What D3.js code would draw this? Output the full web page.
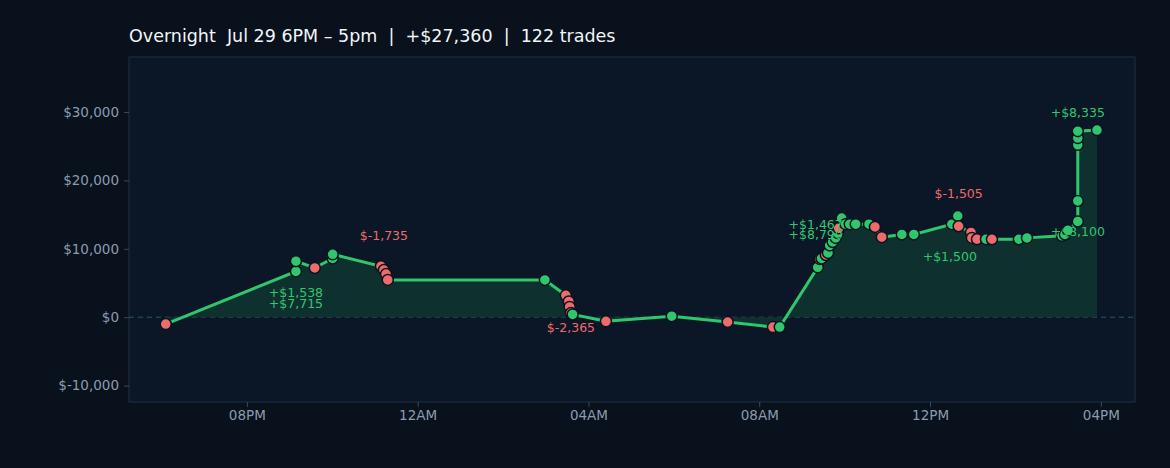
<!DOCTYPE html>
<html><head><meta charset="utf-8">
<script src="https://cdn.jsdelivr.net/npm/d3@7"></script>
<style>body{margin:0;background:#08111c;}svg{display:block;font-family:"DejaVu Sans",sans-serif;}</style>
</head><body><svg id="c" width="1170" height="468"></svg>
<script>
// hours since Jul 29 00:00
const hours = [18.10,21.15,21.15,21.59,22.01,22.01,23.14,23.21,23.26,23.30,26.98,27.47,27.54,27.56,27.59,27.63,28.41,29.95,31.26,32.32,32.48,33.37,33.42,33.46,33.56,33.61,33.65,33.72,33.79,33.84,33.86,33.93,34.02,34.12,34.26,34.57,34.71,34.87,35.34,35.62,36.51,36.65,36.67,36.96,36.98,37.10,37.31,37.45,38.08,38.27,39.09,39.16,39.23,39.46,39.46,39.46,39.46,39.46,39.91];
const equity = [-1000,6700,8200,7200,8600,9200,7450,6900,6300,5450,5450,3200,2300,1500,600,400,-600,150,-700,-1450,-1450,7300,8500,8600,9100,9400,10500,11000,11600,12300,13000,14500,13600,13600,13600,13600,13200,11700,12100,12100,13600,14800,13300,12400,11600,11400,11400,11400,11400,11600,11900,12100,12700,14000,17000,25200,26200,27200,27360];
const win = [0,1,1,0,1,1,0,0,0,0,1,0,0,0,0,1,0,1,0,0,1,1,0,1,0,1,1,1,1,1,0,1,1,1,1,1,0,0,1,1,1,1,0,0,0,0,1,0,1,1,1,1,1,1,1,1,1,1,1];
const noteIdx = [2,2,7,14,30,30,41,42,53,57];
const noteText = ["+$1,538","+$7,715","$-1,735","$-2,365","+$1,467","+$8,790","+$1,500","$-1,505","+$8,100","+$8,335"];
const noteWin = [1,1,0,0,1,1,1,0,1,1];
const noteDx = [0,0,0,0,-23,-23,-8,0,0,0];
const noteDy = [36,47,-30,19,1,11,45,-28,15,-14];
const xTickHours = [20,24,28,32,36,40];
const xTickLabels = ["08PM","12AM","04AM","08AM","12PM","04PM"];
const yTicks = [-10000,0,10000,20000,30000];
const title = "Overnight  Jul 29 6PM – 5pm  |  +$27,360  |  122 trades";

const svg = d3.select("#c");
const L=129,R=1135,T=57,B=402;
const x = d3.scaleLinear().domain([17.24,40.8]).range([L,R]);
const y = d3.scaleLinear().domain([-12400,38050]).range([B,T]);
const GREEN="#2fc66d", RED="#ee6b6b";
svg.append("rect").attr("width",1170).attr("height",468).attr("fill","#08111c");
svg.append("rect").attr("x",L).attr("y",T).attr("width",R-L).attr("height",B-T).attr("fill","#0b1626").attr("stroke","#1f3046");
svg.append("text").attr("x",L).attr("y",42).attr("fill","#f2f5f8").attr("font-size",17.5).style("white-space","pre").text(title);
const money = d=> d<0 ? "$-"+d3.format(",")(-d) : "$"+d3.format(",")(d);
const yAx = svg.append("g").attr("transform",`translate(${L},0)`).call(d3.axisLeft(y).tickValues(yTicks).tickSize(5).tickFormat(money));
const xAx = svg.append("g").attr("transform",`translate(0,${B})`).call(d3.axisBottom(x).tickValues(xTickHours).tickSize(5).tickFormat((d,i)=>xTickLabels[i]));
[yAx,xAx].forEach(a=>{a.select(".domain").remove();a.selectAll("line").attr("stroke","#3a4a5e");a.selectAll("text").attr("fill","#8c9bb0").attr("font-size",13.5).attr("font-family","DejaVu Sans");});
yAx.selectAll("text").attr("dx",-2);
svg.append("line").attr("x1",L).attr("x2",R).attr("y1",y(0)).attr("y2",y(0)).attr("stroke","#2f5a56").attr("stroke-dasharray","5,4");
const pts = hours.map((h,i)=>({h,v:equity[i],w:win[i]}));
svg.append("path").datum(pts).attr("fill","#0e3130").attr("d",d3.area().x(d=>x(d.h)).y0(y(0)).y1(d=>y(d.v)));
svg.append("path").datum(pts).attr("fill","none").attr("stroke",GREEN).attr("stroke-width",3).attr("d",d3.line().x(d=>x(d.h)).y(d=>y(d.v)));
svg.selectAll("circle.p").data(pts).join("circle").attr("cx",d=>x(d.h)).attr("cy",d=>y(d.v)).attr("r",5.5)
 .attr("fill",d=>d.w?GREEN:RED).attr("stroke","#0a1420").attr("stroke-width",1.5);
noteIdx.forEach((pi,k)=>{
 svg.append("text").attr("x",x(hours[pi])+noteDx[k]).attr("y",y(equity[pi])+noteDy[k]).attr("text-anchor","middle")
  .attr("fill",noteWin[k]?GREEN:RED).attr("font-size",12.5).text(noteText[k]);
});
</script></body></html>
